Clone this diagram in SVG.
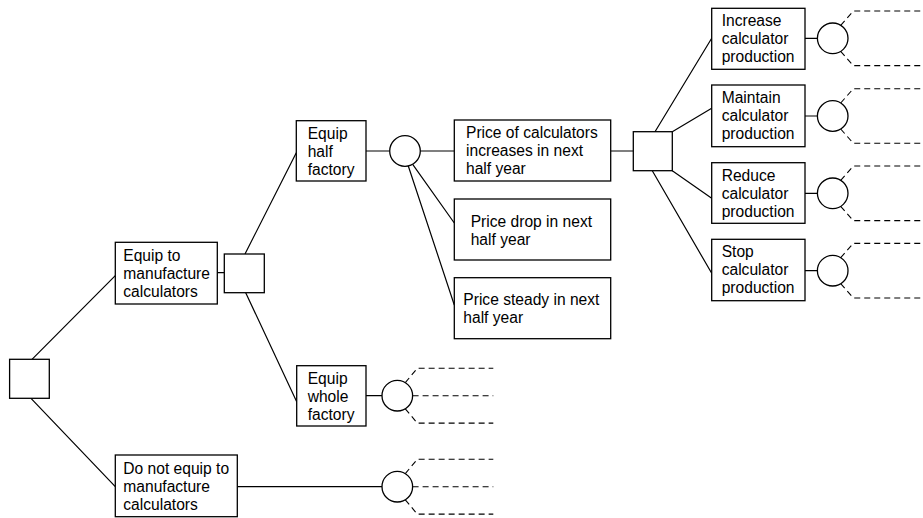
<svg xmlns="http://www.w3.org/2000/svg" width="923" height="518" viewBox="0 0 923 518">
<style>
.b{fill:#fff;stroke:#000;stroke-width:1.3}
.c{fill:#fff;stroke:#000;stroke-width:1.3}
.l{fill:none;stroke:#000;stroke-width:1.2}
.d{fill:none;stroke:#000;stroke-width:1.1;stroke-dasharray:6 4}
text{font-family:"Liberation Sans",Arial,sans-serif;font-size:15.6px;fill:#000}
</style>
<rect width="923" height="518" fill="#fff"/>
<g id="connectors">
<path class="l" d="M32 359.3L115.3 275.7M31 398.3L115.3 486.7M217.3 272.7H224.3M245 254L296.3 152.7M245.7 292.7L296.7 401.7M366 151H389.7M420.3 151H454.3M412.7 164.3L454.3 223M408.3 166L454.3 305M610.7 151H633.3M655 131.7L711.7 38.3M672.3 131.7L711.7 108.3M672.3 170.7L711.7 198.3M652.3 170.7L711.7 273.3M805 38.3H817.4M805 116H817.4M805 193.3H817.4M805 270.7H817.4M237.3 486.7H382M366 395.7H382"/>
<path class="d" d="M840.7 25.3L853.3 11H923M840.7 51.3L853.3 65.6H923M840.7 103L853.3 88.7H923M840.7 129L853.3 143.3H923M840.7 180.3L853.3 166H923M840.7 206.3L853.3 220.6H923M840.7 257.7L853.3 243.4H923M840.7 283.7L853.3 298H923"/>
<path class="d" d="M405.3 382.6L417.3 368.3H493.3M412.6 395.7H493.3M405.3 408.8L417.3 423.1H493.3M405.3 473.6L417.3 459.3H493.3M412.6 486.7H493.3M405.3 499.8L417.3 514.1H493.3"/>
</g>
<g id="root"><rect class="b" x="9.6" y="359.3" width="39.7" height="39"/></g>
<g id="equip-to"><rect class="b" x="115.3" y="242.3" width="102" height="61.7"/><text x="123.3"><tspan x="123.3" y="261">Equip to</tspan><tspan x="123.3" y="279">manufacture</tspan><tspan x="123.3" y="297">calculators</tspan></text></g>
<g id="do-not"><rect class="b" x="115.3" y="455" width="122" height="61.7"/><text><tspan x="123.3" y="474">Do not equip to</tspan><tspan x="123.3" y="492">manufacture</tspan><tspan x="123.3" y="510">calculators</tspan></text></g>
<g id="decision2"><rect class="b" x="224.3" y="254" width="40" height="38.7"/></g>
<g id="half"><rect class="b" x="296.3" y="120.7" width="69.7" height="60.3"/><text><tspan x="307.7" y="138.5">Equip</tspan><tspan x="307.7" y="156.5">half</tspan><tspan x="307.7" y="174.5">factory</tspan></text></g>
<g id="whole"><rect class="b" x="296.7" y="365.7" width="69.3" height="60.3"/><text><tspan x="307.7" y="383.5">Equip</tspan><tspan x="307.7" y="401.5">whole</tspan><tspan x="307.7" y="419.5">factory</tspan></text></g>
<g id="chance1"><circle class="c" cx="405" cy="151" r="15.3"/></g>
<g id="chance-whole"><circle class="c" cx="397.3" cy="395.7" r="15.3"/></g>
<g id="chance-donot"><circle class="c" cx="397.3" cy="486.7" r="15.3"/></g>
<g id="price-up"><rect class="b" x="454.3" y="120" width="156.4" height="61"/><text><tspan x="466" y="138">Price of calculators</tspan><tspan x="466" y="156">increases in next</tspan><tspan x="466" y="174">half year</tspan></text></g>
<g id="price-drop"><rect class="b" x="454.3" y="199" width="156.4" height="61"/><text><tspan x="470.7" y="226.7">Price drop in next</tspan><tspan x="470.7" y="244.5">half year</tspan></text></g>
<g id="price-steady"><rect class="b" x="454.3" y="277.7" width="156.4" height="61"/><text><tspan x="463.3" y="305">Price steady in next</tspan><tspan x="463.3" y="323">half year</tspan></text></g>
<g id="decision3"><rect class="b" x="633.3" y="131.7" width="39" height="39"/></g>
<g id="increase"><rect class="b" x="711.7" y="8.3" width="93.3" height="61"/><text><tspan x="721.7" y="26">Increase</tspan><tspan x="721.7" y="44">calculator</tspan><tspan x="721.7" y="62">production</tspan></text></g>
<g id="maintain"><rect class="b" x="711.7" y="85" width="93.3" height="61.7"/><text><tspan x="721.7" y="103.3">Maintain</tspan><tspan x="721.7" y="121.3">calculator</tspan><tspan x="721.7" y="139.3">production</tspan></text></g>
<g id="reduce"><rect class="b" x="711.7" y="162.7" width="93.3" height="60.6"/><text><tspan x="721.7" y="180.7">Reduce</tspan><tspan x="721.7" y="198.7">calculator</tspan><tspan x="721.7" y="216.7">production</tspan></text></g>
<g id="stop"><rect class="b" x="711.7" y="239.3" width="93.3" height="61.4"/><text><tspan x="721.7" y="257.3">Stop</tspan><tspan x="721.7" y="275.3">calculator</tspan><tspan x="721.7" y="293.3">production</tspan></text></g>
<g id="chance-increase"><circle class="c" cx="832.7" cy="38.3" r="15.3"/></g>
<g id="chance-maintain"><circle class="c" cx="832.7" cy="116" r="15.3"/></g>
<g id="chance-reduce"><circle class="c" cx="832.7" cy="193.3" r="15.3"/></g>
<g id="chance-stop"><circle class="c" cx="832.7" cy="270.7" r="15.3"/></g>
</svg>
